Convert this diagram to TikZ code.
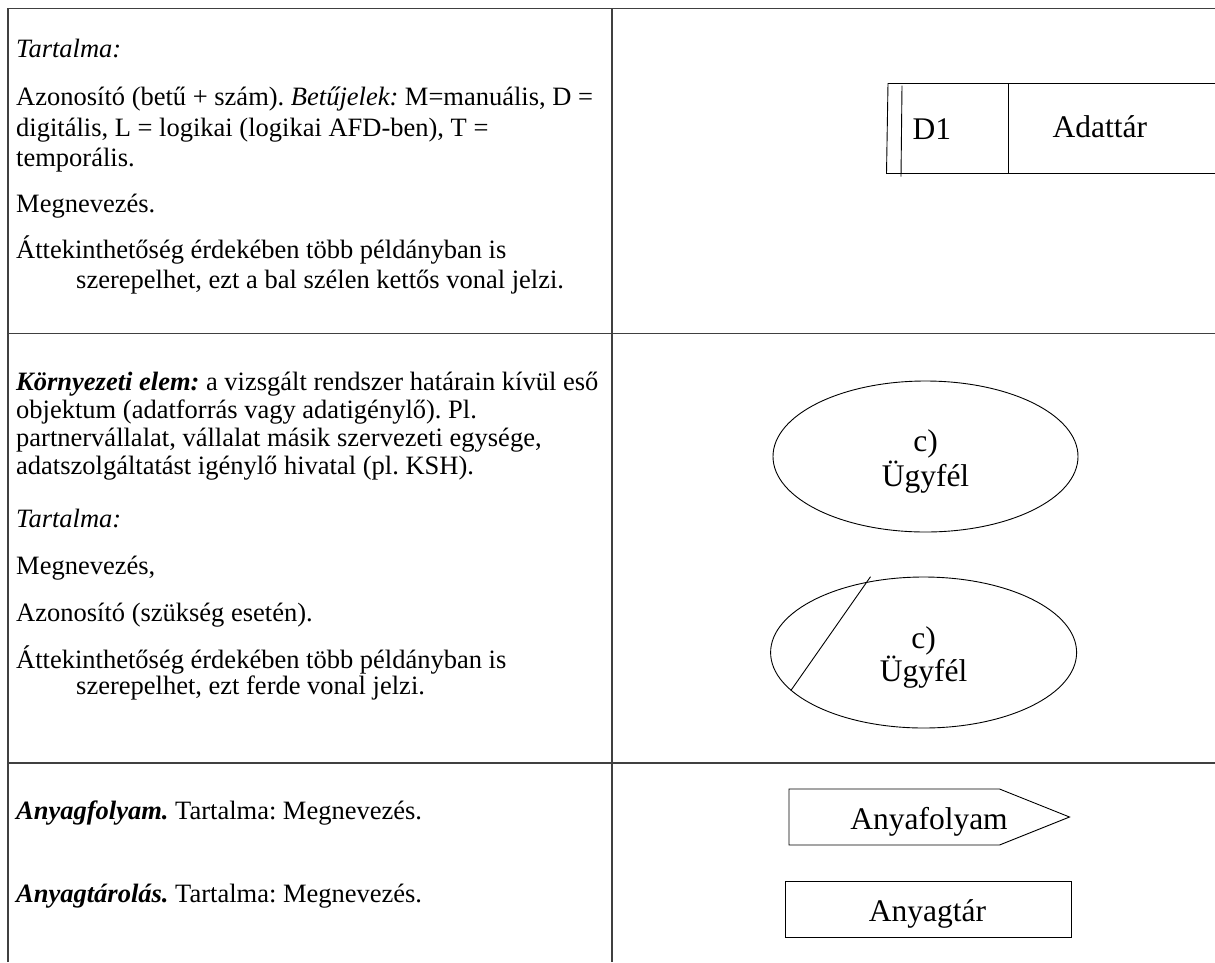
\documentclass[tikz,border=0pt]{standalone}
\usepackage{fontspec}
\setmainfont{Liberation Serif}
\usetikzlibrary{shapes.geometric}
\frenchspacing
\begin{document}
\begin{tikzpicture}[x=1pt,y=-1pt,
  rule/.style={draw=black!75, line width=1.3pt},
  shp/.style={draw=black, line width=0.9pt},
  txt/.style={anchor=base west, inner sep=0pt, font=\fontsize{26.5}{30}\selectfont},
  lbl/.style={anchor=base, inner sep=0pt, font=\fontsize{31.5}{35}\selectfont},
]
\useasboundingbox (0,0) rectangle (1215,962);

% table rules
\coordinate (tTL) at (8,8.5);
\coordinate (tTR) at (1215,8.5);
\coordinate (tBL) at (8,962);
\coordinate (cTop) at (612,8.5);
\coordinate (cBot) at (612,962);
\coordinate (r1L) at (8,333.5);
\coordinate (r1R) at (1215,333.5);
\coordinate (r2L) at (8,763);
\coordinate (r2R) at (1215,763);
\draw[rule] (tBL) -- (tTL) -- (tTR);
\draw[rule] (cTop) -- (cBot);
\draw[rule] (r1L) -- (r1R);
\draw[rule] (r2L) -- (r2R);

% row 1: data store description
\node[txt] (a1) at (16,57) {\textit{Tartalma:}};
\node[txt] (a2) at (16,105) {Azonosító (betű + szám). \textit{Betűjelek:} M=manuális, D =};
\node[txt] (a3) at (16,136) {digitális, L = logikai (logikai AFD-ben), T =};
\node[txt] (a4) at (16,166) {temporális.};
\node[txt] (a5) at (16,212) {Megnevezés.};
\node[txt] (a6) at (16,258) {Áttekinthetőség érdekében több példányban is};
\node[txt] (a7) at (76,288) {szerepelhet, ezt a bal szélen kettős vonal jelzi.};

% row 1: data store symbol
\coordinate (dsTL) at (888,83.5);
\coordinate (dsBL) at (886.5,173.5);
\coordinate (dsTR) at (1215,83.5);
\coordinate (dsBR) at (1215,173.5);
\coordinate (dsIT) at (902,85.5);
\coordinate (dsIB) at (901,176.5);
\coordinate (dsDT) at (1008,84);
\coordinate (dsDB) at (1008,173.5);
\draw[shp] (dsTR) -- (dsTL) -- (dsBL) -- (dsBR);
\draw[shp] (dsIT) -- (dsIB);
\draw[shp] (dsDT) -- (dsDB);
\node[lbl, anchor=base west] (d1) at (912.5,139) {D1};
\node[lbl, anchor=base west] (adattar) at (1052.5,137) {Adattár};

% row 2: environment element description
\node[txt] (b1) at (16,390) {\textbf{\textit{Környezeti elem:}} a vizsgált rendszer határain kívül eső};
\node[txt] (b2) at (16,418) {objektum (adatforrás vagy adatigénylő). Pl.};
\node[txt] (b3) at (16,446) {partnervállalat, vállalat másik szervezeti egysége,};
\node[txt] (b4) at (16,474.5) {adatszolgáltatást igénylő hivatal (pl. KSH).};
\node[txt] (b5) at (16,527) {\textit{Tartalma:}};
\node[txt] (b6) at (16,574.5) {Megnevezés,};
\node[txt] (b7) at (16,621) {Azonosító (szükség esetén).};
\node[txt] (b8) at (16,668) {Áttekinthetőség érdekében több példányban is};
\node[txt] (b9) at (76,694.5) {szerepelhet, ezt ferde vonal jelzi.};

% row 2: environment element symbols
\node[shp, ellipse, minimum width=305pt, minimum height=151pt, inner sep=0pt] (env1) at (925.5,456.5) {};
\node[lbl] (env1a) at (925.5,451.7) {c)};
\node[lbl] (env1b) at (925.5,486.7) {Ügyfél};

\node[shp, ellipse, minimum width=306pt, minimum height=151pt, inner sep=0pt] (env2) at (923.6,652.5) {};
\node[lbl] (env2a) at (923.6,648.3) {c)};
\node[lbl] (env2b) at (923.6,681.7) {Ügyfél};
\coordinate (slashTop) at (870.5,576.7);
\draw[shp] (slashTop) -- (env2.196);

% row 3: material flow and material store
\node[txt] (c1) at (16,819) {\textbf{\textit{Anyagfolyam.}} Tartalma: Megnevezés.};
\node[txt] (c2) at (16,902.5) {\textbf{\textit{Anyagtárolás.}} Tartalma: Megnevezés.};

\coordinate (fTL) at (789,789);
\coordinate (fTR) at (999.5,789);
\coordinate (fTip) at (1069.5,817);
\coordinate (fBR) at (999.5,845);
\coordinate (fBL) at (789,845);
\draw[shp] (fTL) -- (fTR) -- (fTip) -- (fBR) -- (fBL) -- cycle;
\node[lbl] (flow) at (929,829.3) {Anyafolyam};

\node[shp, minimum width=286pt, minimum height=56pt, inner sep=0pt] (store) at (928,909) {};
\node[lbl] (storetxt) at (927.5,921.7) {Anyagtár};
\end{tikzpicture}
\end{document}
